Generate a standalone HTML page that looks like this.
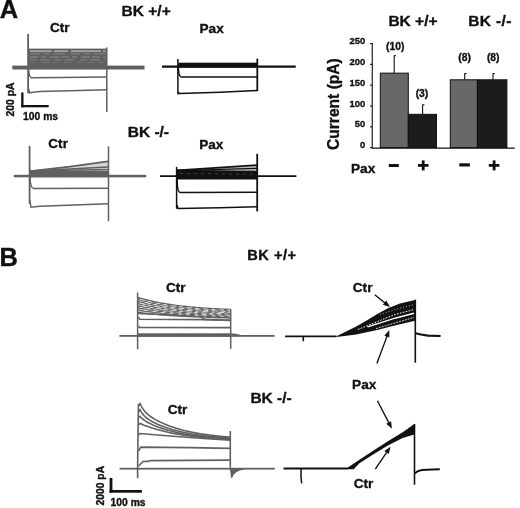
<!DOCTYPE html>
<html><head><meta charset="utf-8"><style>
html,body{margin:0;padding:0;background:#fff;}
svg{display:block;}
svg{filter:grayscale(100%) blur(0.3px);}
text{font-family:"Liberation Sans",sans-serif;font-weight:bold;stroke:#111;stroke-width:0.35px;}
</style></head><body>
<svg width="520" height="508" viewBox="0 0 520 508">
<rect width="520" height="508" fill="#fff"/>
<text x="-0.2" y="17.8" font-size="25.5" text-anchor="start" fill="#111">A</text>
<text x="-0.5" y="265.9" font-size="25.5" text-anchor="start" fill="#111">B</text>
<text x="121.6" y="15.7" font-size="15.5" text-anchor="start" fill="#111">BK +/+</text>
<text x="127.7" y="137.2" font-size="15.5" text-anchor="start" fill="#111">BK -/-</text>
<text x="388.4" y="25.6" font-size="15.5" text-anchor="start" fill="#111">BK +/+</text>
<text x="468.3" y="25.6" font-size="15.5" fill="#111" letter-spacing="0.35">BK -/-</text>
<text x="247.3" y="260.1" font-size="14.6" fill="#111" letter-spacing="0.5">BK +/+</text>
<text x="250.4" y="402.5" font-size="15.5" text-anchor="start" fill="#111">BK -/-</text>
<text x="50.0" y="31.8" font-size="13.6" text-anchor="start" fill="#111">Ctr</text>
<text x="48.3" y="148.3" font-size="13.6" text-anchor="start" fill="#111">Ctr</text>
<text x="199.5" y="32.9" font-size="13.6" text-anchor="start" fill="#111">Pax</text>
<text x="199.2" y="148.5" font-size="13.6" text-anchor="start" fill="#111">Pax</text>
<text x="166.0" y="291.5" font-size="13.6" text-anchor="start" fill="#111">Ctr</text>
<text x="352.8" y="291.6" font-size="13.6" text-anchor="start" fill="#111">Ctr</text>
<text x="167.7" y="413.8" font-size="13.6" text-anchor="start" fill="#111">Ctr</text>
<text x="352.1" y="388.9" font-size="13.6" text-anchor="start" fill="#111">Pax</text>
<text x="353.7" y="487.7" font-size="13.6" text-anchor="start" fill="#111">Ctr</text>
<text x="350.9" y="172.8" font-size="13.7" text-anchor="start" fill="#111">Pax</text>
<text x="23.1" y="119.75" font-size="10.3" text-anchor="start" fill="#111">100 ms</text>
<text x="110.6" y="505.8" font-size="10.3" text-anchor="start" fill="#111">100 ms</text>
<text x="14.3" y="116.5" font-size="10.4" text-anchor="start" fill="#111" transform="rotate(-90 14.3 116.5)">200 pA</text>
<text x="103.6" y="505.4" font-size="10.3" text-anchor="start" fill="#111" transform="rotate(-90 103.6 505.4)">2000 pA</text>
<rect x="21.2" y="92.5" width="2.3" height="14.8" fill="#111"/>
<rect x="21.2" y="105" width="27.5" height="2.3" fill="#111"/>
<rect x="109.6" y="478" width="2.8" height="14.7" fill="#111"/>
<rect x="109.6" y="490" width="32.3" height="2.7" fill="#111"/>
<line x1="370.1" y1="43.599999999999994" x2="372.3" y2="43.599999999999994" stroke="#111" stroke-width="1.2"/>
<text x="365.2" y="44.099999999999994" font-size="9.4" text-anchor="end" fill="#111">250</text>
<line x1="370.1" y1="64.39999999999999" x2="372.3" y2="64.39999999999999" stroke="#111" stroke-width="1.2"/>
<text x="365.2" y="64.89999999999999" font-size="9.4" text-anchor="end" fill="#111">200</text>
<line x1="370.1" y1="85.19999999999999" x2="372.3" y2="85.19999999999999" stroke="#111" stroke-width="1.2"/>
<text x="365.2" y="85.69999999999999" font-size="9.4" text-anchor="end" fill="#111">150</text>
<line x1="370.1" y1="106.0" x2="372.3" y2="106.0" stroke="#111" stroke-width="1.2"/>
<text x="365.2" y="106.5" font-size="9.4" text-anchor="end" fill="#111">100</text>
<line x1="370.1" y1="126.8" x2="372.3" y2="126.8" stroke="#111" stroke-width="1.2"/>
<text x="365.2" y="127.3" font-size="9.4" text-anchor="end" fill="#111">50</text>
<line x1="370.1" y1="147.6" x2="372.3" y2="147.6" stroke="#111" stroke-width="1.2"/>
<text x="365.2" y="148.1" font-size="9.4" text-anchor="end" fill="#111">0</text>
<text x="338.6" y="150.0" font-size="15.6" text-anchor="start" fill="#111" transform="rotate(-90 338.6 150.0)">Current (pA)</text>
<line x1="394.2" y1="73.136" x2="394.2" y2="55.664" stroke="#111" stroke-width="1.1"/>
<line x1="393.9" y1="55.664" x2="396.0" y2="55.664" stroke="#111" stroke-width="1.1"/>
<rect x="380.3" y="73.14" width="28.0" height="74.46" fill="#686868" stroke="#111" stroke-width="1"/>
<line x1="422.6" y1="114.32" x2="422.6" y2="104.752" stroke="#111" stroke-width="1.1"/>
<line x1="422.3" y1="104.752" x2="424.40000000000003" y2="104.752" stroke="#111" stroke-width="1.1"/>
<rect x="408.3" y="114.32" width="28.19999999999999" height="33.28" fill="#1c1c1c" stroke="#111" stroke-width="1"/>
<line x1="464.7" y1="79.792" x2="464.7" y2="73.55199999999999" stroke="#111" stroke-width="1.1"/>
<line x1="464.4" y1="73.55199999999999" x2="466.5" y2="73.55199999999999" stroke="#111" stroke-width="1.1"/>
<rect x="450.3" y="79.79" width="27.099999999999966" height="67.81" fill="#686868" stroke="#111" stroke-width="1"/>
<line x1="493" y1="79.792" x2="493" y2="73.55199999999999" stroke="#111" stroke-width="1.1"/>
<line x1="492.7" y1="73.55199999999999" x2="494.8" y2="73.55199999999999" stroke="#111" stroke-width="1.1"/>
<rect x="477.4" y="79.79" width="29.5" height="67.81" fill="#1c1c1c" stroke="#111" stroke-width="1"/>
<line x1="372.3" y1="43.0" x2="372.3" y2="148.7" stroke="#333" stroke-width="1.3"/>
<line x1="372.3" y1="148.1" x2="514.8" y2="148.1" stroke="#111" stroke-width="1.3"/>
<text x="386.1" y="49.8" font-size="10.3" text-anchor="start" fill="#111">(10)</text>
<text x="415.7" y="96.8" font-size="10.3" text-anchor="start" fill="#111">(3)</text>
<text x="458.3" y="61.0" font-size="10.3" text-anchor="start" fill="#111">(8)</text>
<text x="486.9" y="61.0" font-size="10.3" text-anchor="start" fill="#111">(8)</text>
<rect x="388.8" y="164.0" width="10" height="3.0" fill="#111"/>
<rect x="459.3" y="163.3" width="10.6" height="3.2" fill="#111"/>
<rect x="417.9" y="164.0" width="10.6" height="2.8" fill="#111"/>
<rect x="421.8" y="160.4" width="2.8" height="10.0" fill="#111"/>
<rect x="488.8" y="164.0" width="10.6" height="2.8" fill="#111"/>
<rect x="492.7" y="160.4" width="2.8" height="10.0" fill="#111"/>
<rect x="12.3" y="65.6" width="132.2" height="3.9" fill="#606060"/>
<rect x="28.5" y="48.6" width="78.3" height="20.6" fill="#606060"/>
<line x1="30" y1="51.1" x2="105.5" y2="51.1" stroke="#fff" stroke-width="0.9" stroke-opacity="0.85" stroke-dasharray="22 2 14 3 30 2"/>
<line x1="30" y1="53.8" x2="105.5" y2="53.8" stroke="#fff" stroke-width="0.6" stroke-opacity="0.4" stroke-dasharray="10 4 6 3 12 5"/>
<line x1="30" y1="57.0" x2="105.5" y2="57.0" stroke="#fff" stroke-width="0.6" stroke-opacity="0.45" stroke-dasharray="8 3 5 4 9 2"/>
<line x1="30" y1="59.9" x2="105.5" y2="59.9" stroke="#fff" stroke-width="0.6" stroke-opacity="0.4" stroke-dasharray="6 4 10 5"/>
<line x1="30" y1="62.4" x2="105.5" y2="62.4" stroke="#fff" stroke-width="0.5" stroke-opacity="0.25" stroke-dasharray="5 6 8 4"/>
<line x1="28.1" y1="34" x2="28.1" y2="93.3" stroke="#606060" stroke-width="1.8"/>
<line x1="106.8" y1="47.5" x2="106.8" y2="112" stroke="#606060" stroke-width="1.5"/>
<path d="M28.6,69 Q29,77.6 31.5,77.8 L60,77.6 L106.8,76.9" stroke="#606060" stroke-width="1.5" fill="none" />
<path d="M28.6,89 L29.6,92.8 L33,92.3 L40,91.6 L70,90.8 L106.8,89.7" stroke="#606060" stroke-width="1.5" fill="none" />
<line x1="162" y1="66.6" x2="295.7" y2="66.6" stroke="#111" stroke-width="2.1"/>
<rect x="178.3" y="62.7" width="79" height="4.9" fill="#111"/>
<line x1="177.9" y1="59" x2="177.9" y2="94.4" stroke="#111" stroke-width="1.5"/>
<line x1="257.3" y1="58.7" x2="257.3" y2="91.2" stroke="#111" stroke-width="1.8"/>
<path d="M178.3,67 Q178.5,76.9 181.5,76.9 L257,76.9" stroke="#111" stroke-width="1.5" fill="none" />
<path d="M178.3,92 L179.5,93.6 L220,92.2 L257,90.6" stroke="#111" stroke-width="1.5" fill="none" />
<rect x="13.8" y="174.8" width="132.4" height="2.5" fill="#606060"/>
<polygon points="30.50,171.00 108.00,161.30 108.00,170.40" fill="#d6d6d6"/>
<polygon points="30.00,170.60 108.20,170.40 108.20,177.30 30.00,177.30" fill="#606060"/>
<polyline points="30.50,171.00 50.00,168.90 70.00,166.60 90.00,163.80 108.00,161.30" fill="none" stroke="#606060" stroke-width="1.7" />
<line x1="30.5" y1="171" x2="108" y2="167.0" stroke="#606060" stroke-width="1.4"/>
<line x1="30.5" y1="171" x2="108" y2="169.4" stroke="#606060" stroke-width="1.4"/>
<line x1="29.6" y1="145.9" x2="29.6" y2="203.8" stroke="#606060" stroke-width="1.8"/>
<line x1="108.5" y1="146.4" x2="108.5" y2="221.2" stroke="#606060" stroke-width="1.5"/>
<path d="M29.8,176 Q30.5,188.6 33.5,188.6 L108.5,188.3" stroke="#606060" stroke-width="1.5" fill="none" />
<path d="M29.8,200 L31,207.2 L40,206.3 L108.5,203.7" stroke="#606060" stroke-width="1.4" fill="none" />
<line x1="160" y1="176.2" x2="296.4" y2="176.2" stroke="#111" stroke-width="1.8"/>
<polygon points="177.00,170.30 257.00,165.20 257.00,171.60" fill="#bdbdbd"/>
<polygon points="176.80,169.60 257.00,171.60 257.00,179.60 176.80,179.40" fill="#111"/>
<line x1="177" y1="170.3" x2="257" y2="165.2" stroke="#111" stroke-width="1.7"/>
<line x1="177" y1="170.6" x2="257" y2="168.4" stroke="#111" stroke-width="1.4"/>
<line x1="177" y1="170.8" x2="257" y2="171.4" stroke="#111" stroke-width="1.3"/>
<line x1="180" y1="173.4" x2="255" y2="174.2" stroke="#fff" stroke-width="0.6" stroke-opacity="0.3" stroke-dasharray="3 4"/>
<line x1="176.6" y1="166.9" x2="176.6" y2="208.8" stroke="#111" stroke-width="1.5"/>
<line x1="257.2" y1="153.8" x2="257.2" y2="211.4" stroke="#111" stroke-width="1.8"/>
<path d="M177,179 Q177.5,192.6 180,192.6 L257,192.2" stroke="#111" stroke-width="1.5" fill="none" />
<path d="M177,205 L178,208.6 L220,207.8 L257,206.8" stroke="#111" stroke-width="1.5" fill="none" />
<rect x="119.4" y="335.0" width="155.2" height="1.8" fill="#606060"/>
<rect x="138" y="333.3" width="92.7" height="3.4" fill="#606060"/>
<polygon points="138.00,297.50 140.00,298.07 142.00,298.61 144.00,299.14 146.00,299.63 148.00,300.11 150.00,300.57 152.00,301.00 154.00,301.42 156.00,301.82 158.00,302.20 160.00,302.57 162.00,302.91 164.00,303.25 166.00,303.57 168.00,303.87 170.00,304.17 172.00,304.45 174.00,304.71 176.00,304.97 178.00,305.21 180.00,305.45 182.00,305.67 184.00,305.89 186.00,306.09 188.00,306.29 190.00,306.48 192.00,306.65 194.00,306.83 196.00,306.99 198.00,307.15 200.00,307.30 201.00,307.37 202.00,307.44 204.00,307.58 205.00,307.64 206.00,307.71 208.00,307.83 210.00,307.96 212.00,308.07 214.00,308.18 216.00,308.29 218.00,308.39 220.00,308.48 222.00,308.57 224.00,308.66 226.00,308.75 228.00,308.83 230.00,308.90 230.70,308.93 230.70,320.80 230.00,320.78 228.00,320.74 226.00,320.69 224.00,320.64 222.00,320.60 220.00,320.55 218.00,320.50 216.00,320.46 214.00,320.41 212.00,320.36 210.00,320.32 208.00,320.27 206.00,320.22 205.00,320.20 204.00,319.56 202.00,318.28 201.00,317.64 200.00,317.00 198.00,316.86 196.00,316.72 194.00,316.58 192.00,316.44 190.00,316.30 188.00,316.22 186.00,316.14 184.00,316.06 182.00,315.98 180.00,315.90 178.00,315.82 176.00,315.73 174.00,315.65 172.00,315.57 170.00,315.49 168.00,315.41 166.00,315.33 164.00,315.25 162.00,315.17 160.00,315.09 158.00,315.01 156.00,314.93 154.00,314.85 152.00,314.77 150.00,314.68 148.00,314.60 146.00,314.52 144.00,314.44 142.00,314.36 140.00,314.28 138.00,314.20" fill="#dadada"/>
<polyline points="138.00,297.60 140.00,298.20 142.00,298.77 144.00,299.32 146.00,299.84 148.00,300.34 150.00,300.82 152.00,301.28 154.00,301.72 156.00,302.13 158.00,302.53 160.00,302.92 162.00,303.28 164.00,303.64 166.00,303.97 168.00,304.29 170.00,304.60 172.00,304.89 174.00,305.17 176.00,305.44 178.00,305.70 180.00,305.94 182.00,306.18 184.00,306.40 186.00,306.62 188.00,306.83 190.00,307.02 192.00,307.21 194.00,307.39 196.00,307.56 198.00,307.73 200.00,307.89 201.00,307.96 202.00,308.04 204.00,308.18 205.00,308.25 206.00,308.32 208.00,308.45 210.00,308.58 212.00,308.70 214.00,308.81 216.00,308.92 218.00,309.03 220.00,309.13 222.00,309.23 224.00,309.32 226.00,309.41 228.00,309.49 230.00,309.57 230.70,309.60" fill="none" stroke="#606060" stroke-width="1.6" />
<polyline points="138.00,299.60 140.00,300.16 142.00,300.70 144.00,301.22 146.00,301.71 148.00,302.18 150.00,302.63 152.00,303.06 154.00,303.48 156.00,303.87 158.00,304.25 160.00,304.61 162.00,304.95 164.00,305.28 166.00,305.60 168.00,305.90 170.00,306.19 172.00,306.47 174.00,306.73 176.00,306.98 178.00,307.23 180.00,307.46 182.00,307.68 184.00,307.89 186.00,308.09 188.00,308.29 190.00,308.47 192.00,308.65 194.00,308.82 196.00,308.98 198.00,309.14 200.00,309.29 201.00,309.36 202.00,309.43 204.00,309.56 205.00,309.63 206.00,309.69 208.00,309.82 210.00,309.94 212.00,310.05 214.00,310.16 216.00,310.26 218.00,310.36 220.00,310.46 222.00,310.55 224.00,310.64 226.00,310.72 228.00,310.80 230.00,310.87 230.70,310.90" fill="none" stroke="#606060" stroke-width="1.3" />
<polyline points="138.00,301.60 140.00,302.13 142.00,302.63 144.00,303.12 146.00,303.58 148.00,304.02 150.00,304.44 152.00,304.85 154.00,305.23 156.00,305.61 158.00,305.96 160.00,306.30 162.00,306.62 164.00,306.93 166.00,307.23 168.00,307.51 170.00,307.78 172.00,308.04 174.00,308.29 176.00,308.53 178.00,308.75 180.00,308.97 182.00,309.18 184.00,309.38 186.00,309.57 188.00,309.75 190.00,309.92 192.00,310.09 194.00,310.25 196.00,310.40 198.00,310.55 200.00,310.69 201.00,310.75 202.00,310.82 204.00,310.95 205.00,311.01 206.00,311.07 208.00,311.18 210.00,311.30 212.00,311.40 214.00,311.50 216.00,311.60 218.00,311.70 220.00,311.78 222.00,311.87 224.00,311.95 226.00,312.03 228.00,312.10 230.00,312.18 230.70,312.20" fill="none" stroke="#606060" stroke-width="1.3" />
<polyline points="138.00,303.70 140.00,304.19 142.00,304.66 144.00,305.10 146.00,305.53 148.00,305.94 150.00,306.33 152.00,306.70 154.00,307.06 156.00,307.40 158.00,307.73 160.00,308.04 162.00,308.34 164.00,308.63 166.00,308.90 168.00,309.17 170.00,309.42 172.00,309.66 174.00,309.88 176.00,310.10 178.00,310.31 180.00,310.51 182.00,310.71 184.00,310.89 186.00,311.07 188.00,311.23 190.00,311.39 192.00,311.55 194.00,311.70 196.00,311.84 198.00,311.97 200.00,312.10 201.00,312.16 202.00,312.22 204.00,312.34 205.00,312.40 206.00,312.45 208.00,312.56 210.00,312.66 212.00,312.76 214.00,312.86 216.00,312.95 218.00,313.03 220.00,313.12 222.00,313.19 224.00,313.27 226.00,313.34 228.00,313.41 230.00,313.48 230.70,313.50" fill="none" stroke="#606060" stroke-width="1.3" />
<polyline points="138.00,305.80 140.00,306.25 142.00,306.68 144.00,307.09 146.00,307.48 148.00,307.86 150.00,308.21 152.00,308.56 154.00,308.89 156.00,309.20 158.00,309.50 160.00,309.79 162.00,310.06 164.00,310.33 166.00,310.58 168.00,310.82 170.00,311.05 172.00,311.27 174.00,311.48 176.00,311.68 178.00,311.87 180.00,312.06 182.00,312.23 184.00,312.40 186.00,312.56 188.00,312.72 190.00,312.87 192.00,313.01 194.00,313.14 196.00,313.27 198.00,313.40 200.00,313.51 201.00,313.57 202.00,313.63 204.00,313.74 205.00,313.79 206.00,313.84 208.00,313.94 210.00,314.03 212.00,314.12 214.00,314.21 216.00,314.29 218.00,314.37 220.00,314.45 222.00,314.52 224.00,314.59 226.00,314.66 228.00,314.72 230.00,314.78 230.70,314.80" fill="none" stroke="#606060" stroke-width="1.3" />
<polyline points="138.00,307.90 140.00,308.30 142.00,308.69 144.00,309.06 146.00,309.41 148.00,309.75 150.00,310.07 152.00,310.38 154.00,310.68 156.00,310.96 158.00,311.23 160.00,311.49 162.00,311.74 164.00,311.97 166.00,312.20 168.00,312.42 170.00,312.62 172.00,312.82 174.00,313.01 176.00,313.19 178.00,313.37 180.00,313.53 182.00,313.69 184.00,313.84 186.00,313.99 188.00,314.13 190.00,314.26 192.00,314.39 194.00,314.51 196.00,314.62 198.00,314.74 200.00,314.84 201.00,314.89 202.00,314.94 204.00,315.04 205.00,315.09 206.00,315.13 208.00,315.22 210.00,315.31 212.00,315.39 214.00,315.47 216.00,315.54 218.00,315.61 220.00,315.68 222.00,315.75 224.00,315.81 226.00,315.87 228.00,315.93 230.00,315.98 230.70,316.00" fill="none" stroke="#606060" stroke-width="1.3" />
<polyline points="138.00,310.10 140.00,310.44 142.00,310.77 144.00,311.09 146.00,311.39 148.00,311.68 150.00,311.95 152.00,312.21 154.00,312.47 156.00,312.71 158.00,312.94 160.00,313.16 162.00,313.37 164.00,313.57 166.00,313.76 168.00,313.95 170.00,314.12 172.00,314.29 174.00,314.45 176.00,314.61 178.00,314.76 180.00,314.90 182.00,315.03 184.00,315.16 186.00,315.29 188.00,315.40 190.00,315.52 192.00,315.63 194.00,315.73 196.00,315.83 198.00,315.92 200.00,316.01 201.00,316.06 202.00,316.10 204.00,316.18 205.00,316.22 206.00,316.26 208.00,316.34 210.00,316.41 212.00,316.48 214.00,316.55 216.00,316.61 218.00,316.67 220.00,316.73 222.00,316.79 224.00,316.84 226.00,316.89 228.00,316.94 230.00,316.98 230.70,317.00" fill="none" stroke="#606060" stroke-width="1.3" />
<polyline points="138.00,312.30 140.00,312.57 142.00,312.84 144.00,313.09 146.00,313.33 148.00,313.56 150.00,313.78 152.00,313.99 154.00,314.19 156.00,314.38 158.00,314.56 160.00,314.74 162.00,314.91 164.00,315.07 166.00,315.22 168.00,315.37 170.00,315.51 172.00,315.64 174.00,315.77 176.00,315.89 178.00,316.01 180.00,316.12 182.00,316.23 184.00,316.34 186.00,316.43 188.00,316.53 190.00,316.62 192.00,316.70 194.00,316.79 196.00,316.87 198.00,316.94 200.00,317.01 201.00,317.05 202.00,317.08 204.00,317.15 205.00,317.18 206.00,317.21 208.00,317.27 210.00,317.33 212.00,317.39 214.00,317.44 216.00,317.49 218.00,317.54 220.00,317.58 222.00,317.63 224.00,317.67 226.00,317.71 228.00,317.75 230.00,317.79 230.70,317.80" fill="none" stroke="#606060" stroke-width="1.3" />
<polyline points="138.00,313.60 140.00,313.68 142.00,313.76 144.00,313.84 146.00,313.92 148.00,314.00 150.00,314.08 152.00,314.17 154.00,314.25 156.00,314.33 158.00,314.41 160.00,314.49 162.00,314.57 164.00,314.65 166.00,314.73 168.00,314.81 170.00,314.89 172.00,314.97 174.00,315.05 176.00,315.13 178.00,315.22 180.00,315.30 182.00,315.38 184.00,315.46 186.00,315.54 188.00,315.62 190.00,315.70 192.00,315.84 194.00,315.98 196.00,316.12 198.00,316.26 200.00,316.40 201.00,317.04 202.00,317.68 204.00,318.96 205.00,319.60 206.00,319.62 208.00,319.67 210.00,319.72 212.00,319.76 214.00,319.81 216.00,319.86 218.00,319.90 220.00,319.95 222.00,320.00 224.00,320.04 226.00,320.09 228.00,320.14 230.00,320.18 230.70,320.20" fill="none" stroke="#606060" stroke-width="1.3" />
<polyline points="140.00,299.18 142.00,299.74 144.00,300.27 146.00,300.77 148.00,301.26 150.00,301.73 152.00,302.17 154.00,302.60 156.00,303.00 158.00,303.39 160.00,303.76 162.00,304.12 164.00,304.46 166.00,304.79 168.00,305.10 170.00,305.39 172.00,305.68 174.00,305.95 176.00,306.21 178.00,306.46 180.00,306.70 182.00,306.93 184.00,307.15 186.00,307.36 188.00,307.56 190.00,307.75 192.00,307.93 194.00,308.11 196.00,308.27 198.00,308.43 200.00,308.59 201.00,308.66 202.00,308.73 204.00,308.87 205.00,308.94 206.00,309.01 208.00,309.13 210.00,309.26 212.00,309.37 214.00,309.49 216.00,309.59 218.00,309.70 220.00,309.79 222.00,309.89 224.00,309.98 226.00,310.06 228.00,310.14 230.00,310.22 230.70,310.25" fill="none" stroke="#fff" stroke-width="0.8" stroke-dasharray="5 3 4 4" stroke-dashoffset="0" stroke-opacity="0.9"/>
<polyline points="140.00,301.15 142.00,301.67 144.00,302.17 146.00,302.64 148.00,303.10 150.00,303.54 152.00,303.96 154.00,304.36 156.00,304.74 158.00,305.10 160.00,305.45 162.00,305.79 164.00,306.11 166.00,306.41 168.00,306.71 170.00,306.99 172.00,307.25 174.00,307.51 176.00,307.76 178.00,307.99 180.00,308.21 182.00,308.43 184.00,308.63 186.00,308.83 188.00,309.02 190.00,309.20 192.00,309.37 194.00,309.53 196.00,309.69 198.00,309.84 200.00,309.99 201.00,310.05 202.00,310.12 204.00,310.25 205.00,310.32 206.00,310.38 208.00,310.50 210.00,310.62 212.00,310.73 214.00,310.83 216.00,310.93 218.00,311.03 220.00,311.12 222.00,311.21 224.00,311.29 226.00,311.37 228.00,311.45 230.00,311.52 230.70,311.55" fill="none" stroke="#fff" stroke-width="0.8" stroke-dasharray="4 4 6 3" stroke-dashoffset="3" stroke-opacity="0.9"/>
<polyline points="140.00,303.16 142.00,303.64 144.00,304.11 146.00,304.55 148.00,304.98 150.00,305.39 152.00,305.78 154.00,306.15 156.00,306.50 158.00,306.84 160.00,307.17 162.00,307.48 164.00,307.78 166.00,308.07 168.00,308.34 170.00,308.60 172.00,308.85 174.00,309.09 176.00,309.32 178.00,309.53 180.00,309.74 182.00,309.94 184.00,310.13 186.00,310.32 188.00,310.49 190.00,310.66 192.00,310.82 194.00,310.97 196.00,311.12 198.00,311.26 200.00,311.39 201.00,311.46 202.00,311.52 204.00,311.64 205.00,311.70 206.00,311.76 208.00,311.87 210.00,311.98 212.00,312.08 214.00,312.18 216.00,312.27 218.00,312.36 220.00,312.45 222.00,312.53 224.00,312.61 226.00,312.69 228.00,312.76 230.00,312.83 230.70,312.85" fill="none" stroke="#fff" stroke-width="0.8" stroke-dasharray="6 3 3 4" stroke-dashoffset="1" stroke-opacity="0.9"/>
<polyline points="140.00,305.22 142.00,305.67 144.00,306.09 146.00,306.50 148.00,306.90 150.00,307.27 152.00,307.63 154.00,307.97 156.00,308.30 158.00,308.62 160.00,308.92 162.00,309.20 164.00,309.48 166.00,309.74 168.00,309.99 170.00,310.23 172.00,310.46 174.00,310.68 176.00,310.89 178.00,311.09 180.00,311.29 182.00,311.47 184.00,311.65 186.00,311.82 188.00,311.98 190.00,312.13 192.00,312.28 194.00,312.42 196.00,312.55 198.00,312.68 200.00,312.81 201.00,312.87 202.00,312.92 204.00,313.04 205.00,313.09 206.00,313.15 208.00,313.25 210.00,313.35 212.00,313.44 214.00,313.53 216.00,313.62 218.00,313.70 220.00,313.78 222.00,313.86 224.00,313.93 226.00,314.00 228.00,314.07 230.00,314.13 230.70,314.15" fill="none" stroke="#fff" stroke-width="0.8" stroke-dasharray="3 4 5 3" stroke-dashoffset="5" stroke-opacity="0.9"/>
<polyline points="140.00,307.28 142.00,307.68 144.00,308.07 146.00,308.45 148.00,308.80 150.00,309.14 152.00,309.47 154.00,309.78 156.00,310.08 158.00,310.37 160.00,310.64 162.00,310.90 164.00,311.15 166.00,311.39 168.00,311.62 170.00,311.84 172.00,312.05 174.00,312.25 176.00,312.44 178.00,312.62 180.00,312.80 182.00,312.96 184.00,313.12 186.00,313.28 188.00,313.42 190.00,313.56 192.00,313.70 194.00,313.83 196.00,313.95 198.00,314.07 200.00,314.18 201.00,314.23 202.00,314.29 204.00,314.39 205.00,314.44 206.00,314.49 208.00,314.58 210.00,314.67 212.00,314.76 214.00,314.84 216.00,314.92 218.00,314.99 220.00,315.06 222.00,315.13 224.00,315.20 226.00,315.26 228.00,315.32 230.00,315.38 230.70,315.40" fill="none" stroke="#fff" stroke-width="0.8" stroke-dasharray="4 5 3 4" stroke-dashoffset="2" stroke-opacity="0.9"/>
<polyline points="140.00,309.37 142.00,309.73 144.00,310.07 146.00,310.40 148.00,310.71 150.00,311.01 152.00,311.30 154.00,311.57 156.00,311.83 158.00,312.08 160.00,312.32 162.00,312.55 164.00,312.77 166.00,312.98 168.00,313.18 170.00,313.37 172.00,313.56 174.00,313.73 176.00,313.90 178.00,314.06 180.00,314.22 182.00,314.36 184.00,314.50 186.00,314.64 188.00,314.77 190.00,314.89 192.00,315.01 194.00,315.12 196.00,315.23 198.00,315.33 200.00,315.43 201.00,315.48 202.00,315.52 204.00,315.61 205.00,315.66 206.00,315.70 208.00,315.78 210.00,315.86 212.00,315.94 214.00,316.01 216.00,316.08 218.00,316.14 220.00,316.21 222.00,316.27 224.00,316.32 226.00,316.38 228.00,316.43 230.00,316.48 230.70,316.50" fill="none" stroke="#fff" stroke-width="0.8" stroke-dasharray="3 5 4 5" stroke-dashoffset="4" stroke-opacity="0.9"/>
<polyline points="138.50,317.00 139.50,319.30 205.00,319.60 230.70,320.40" fill="none" stroke="#606060" stroke-width="1.6" />
<polyline points="138.50,326.00 139.50,327.40 230.70,327.60" fill="none" stroke="#606060" stroke-width="1.6" />
<line x1="137.6" y1="292.5" x2="137.6" y2="349.2" stroke="#606060" stroke-width="1.5"/>
<line x1="230.7" y1="309.3" x2="230.7" y2="348.9" stroke="#606060" stroke-width="1.5"/>
<path d="M230.7,334 Q236,334.2 240,335.5" stroke="#606060" stroke-width="1.5" fill="none" />
<line x1="285.1" y1="336.3" x2="336.5" y2="336.3" stroke="#111" stroke-width="1.8"/>
<path d="M303.3,336 L303.3,341.2" stroke="#111" stroke-width="1.6" fill="none" />
<polygon points="336.50,336.20 345.60,331.70 356.20,326.60 366.70,320.40 377.30,314.00 387.90,308.20 400.00,303.60 415.00,300.00 415.00,320.80 400.00,324.20 387.90,327.20 377.30,329.90 366.70,332.30 356.20,334.50 340.30,336.60 336.50,337.00" fill="#111"/>
<polyline points="358.00,329.50 385.00,318.50 395.00,314.50 414.00,309.60" fill="none" stroke="#fff" stroke-width="1.0" stroke-dasharray="1.6 1.4"/>
<polyline points="367.50,326.80 385.00,321.30 395.00,318.20 414.00,313.20" fill="none" stroke="#fff" stroke-width="1.4" />
<polyline points="376.00,328.60 395.00,323.00 414.00,317.40" fill="none" stroke="#fff" stroke-width="0.8" stroke-dasharray="2 1"/>
<polyline points="380.00,314.50 395.00,309.50 414.00,304.60" fill="none" stroke="#fff" stroke-width="0.7" stroke-dasharray="1.2 1.8" stroke-opacity="0.8"/>
<line x1="415.3" y1="299.6" x2="415.3" y2="362.7" stroke="#111" stroke-width="1.6"/>
<path d="M415.5,333.2 Q420,334.6 428,335.6 L440.6,336" stroke="#111" stroke-width="2.1" fill="none" />
<line x1="374.8" y1="294.8" x2="385.33581626734343" y2="303.32569342686344" stroke="#111" stroke-width="1.35"/>
<polygon points="390.00,307.10 382.86,304.80 386.26,300.60" fill="#111"/>
<line x1="376.9" y1="363.5" x2="387.21720802063885" y2="335.6268976861774" stroke="#111" stroke-width="1.35"/>
<polygon points="389.30,330.00 389.40,337.50 384.34,335.63" fill="#111"/>
<rect x="119.6" y="467.8" width="155.2" height="1.8" fill="#606060"/>
<path d="M138.4,404 L137.6,468 L137.6,478.2" stroke="#606060" stroke-width="1.6" fill="none" />
<polyline points="138.60,406.00 139.40,404.20 140.00,403.50 141.00,405.62 142.00,407.42 143.00,408.98 144.00,410.34 145.00,411.54 146.00,412.62 147.00,413.59 148.00,414.48 149.00,415.30 150.00,416.06 152.00,417.46 154.00,418.72 156.00,419.87 158.00,420.94 160.00,421.94 162.00,422.88 164.00,423.77 166.00,424.60 168.00,425.40 170.00,426.15 172.00,426.86 174.00,427.53 176.00,428.17 178.00,428.78 180.00,429.35 182.00,429.90 184.00,430.42 186.00,430.91 188.00,431.38 190.00,431.82 192.00,432.24 194.00,432.64 196.00,433.01 198.00,433.37 200.00,433.71 202.00,434.03 204.00,434.34 206.00,434.63 208.00,434.91 210.00,435.17 212.00,435.41 214.00,435.65 216.00,435.87 218.00,436.08 220.00,436.28 222.00,436.48 224.00,436.66 226.00,436.83 228.00,436.99 230.00,437.14 230.20,437.16" fill="none" stroke="#606060" stroke-width="1.6" />
<polyline points="138.60,412.00 140.00,409.80 141.00,411.57 142.00,413.08 143.00,414.39 144.00,415.53 145.00,416.54 146.00,417.44 147.00,418.25 148.00,419.00 149.00,419.69 150.00,420.34 152.00,421.51 154.00,422.57 156.00,423.54 158.00,424.44 160.00,425.28 162.00,426.08 164.00,426.82 166.00,427.53 168.00,428.19 170.00,428.83 172.00,429.43 174.00,430.00 176.00,430.53 178.00,431.05 180.00,431.53 182.00,431.99 184.00,432.43 186.00,432.84 188.00,433.23 190.00,433.61 192.00,433.96 194.00,434.29 196.00,434.61 198.00,434.91 200.00,435.20 202.00,435.47 204.00,435.73 206.00,435.97 208.00,436.21 210.00,436.43 212.00,436.64 214.00,436.83 216.00,437.02 218.00,437.20 220.00,437.37 222.00,437.53 224.00,437.68 226.00,437.83 228.00,437.96 230.00,438.09 230.20,438.11" fill="none" stroke="#606060" stroke-width="1.6" />
<polyline points="138.60,418.00 140.00,416.50 141.00,417.53 142.00,418.44 143.00,419.26 144.00,420.01 145.00,420.70 146.00,421.34 147.00,421.94 148.00,422.50 149.00,423.03 150.00,423.54 152.00,424.49 154.00,425.37 156.00,426.20 158.00,426.97 160.00,427.69 162.00,428.38 164.00,429.03 166.00,429.65 168.00,430.23 170.00,430.78 172.00,431.31 174.00,431.80 176.00,432.28 178.00,432.72 180.00,433.15 182.00,433.55 184.00,433.93 186.00,434.29 188.00,434.64 190.00,434.96 192.00,435.27 194.00,435.57 196.00,435.85 198.00,436.11 200.00,436.36 202.00,436.60 204.00,436.82 206.00,437.04 208.00,437.24 210.00,437.43 212.00,437.62 214.00,437.79 216.00,437.95 218.00,438.11 220.00,438.26 222.00,438.40 224.00,438.53 226.00,438.66 228.00,438.78 230.00,438.89 230.20,438.90" fill="none" stroke="#606060" stroke-width="1.6" />
<polyline points="138.60,425.00 140.00,423.50 142.00,424.34 144.00,425.14 146.00,425.90 148.00,426.62 150.00,427.31 152.00,427.97 154.00,428.60 156.00,429.20 158.00,429.77 160.00,430.32 162.00,430.84 164.00,431.34 166.00,431.81 168.00,432.26 170.00,432.69 172.00,433.10 174.00,433.49 176.00,433.86 178.00,434.22 180.00,434.56 182.00,434.88 184.00,435.19 186.00,435.48 188.00,435.76 190.00,436.03 192.00,436.28 194.00,436.52 196.00,436.76 198.00,436.98 200.00,437.19 202.00,437.39 204.00,437.58 206.00,437.76 208.00,437.93 210.00,438.10 212.00,438.26 214.00,438.41 216.00,438.55 218.00,438.69 220.00,438.82 222.00,438.95 224.00,439.06 226.00,439.18 228.00,439.29 230.00,439.39 230.20,439.40" fill="none" stroke="#606060" stroke-width="1.6" />
<polyline points="138.60,435.00 140.00,433.50 170.00,436.00 200.00,438.30 230.20,440.30" fill="none" stroke="#606060" stroke-width="1.6" />
<polyline points="138.80,451.00 140.70,447.10 190.00,447.60 230.20,448.40" fill="none" stroke="#606060" stroke-width="1.6" />
<polyline points="138.50,466.00 143.00,461.50 148.00,461.40 150.00,460.60 230.20,460.10" fill="none" stroke="#606060" stroke-width="1.6" />
<line x1="230.3" y1="431" x2="230.3" y2="468.5" stroke="#606060" stroke-width="1.6"/>
<path d="M230.5,468 L231.6,477.6 Q234,470 243.6,469" stroke="#606060" stroke-width="1.3" fill="#606060" />
<line x1="283.5" y1="468.5" x2="348" y2="468.5" stroke="#111" stroke-width="1.8"/>
<path d="M301.1,468.5 Q300.6,476 301.6,483.3" stroke="#111" stroke-width="1.5" fill="none" />
<polygon points="347.90,467.60 359.40,459.70 373.90,450.30 388.30,440.90 402.70,432.30 414.30,424.00 414.30,434.40 402.70,438.00 388.30,445.30 373.90,453.90 359.40,463.30 353.70,469.20 347.90,469.20" fill="#111"/>
<line x1="414.5" y1="423.9" x2="414.5" y2="484.7" stroke="#111" stroke-width="1.6"/>
<path d="M414.8,473.4 Q417.5,470.6 422,470.1 L432,469.4 L439.8,469.2" stroke="#111" stroke-width="2.0" fill="none" />
<line x1="377.4" y1="400.7" x2="389.1408745140312" y2="423.37203354433626" stroke="#111" stroke-width="1.35"/>
<polygon points="391.90,428.70 386.28,423.73 391.08,421.24" fill="#111"/>
<line x1="375.3" y1="469.1" x2="387.13099148997645" y2="451.66485464635053" stroke="#111" stroke-width="1.35"/>
<polygon points="390.50,446.70 388.80,454.01 384.34,450.98" fill="#111"/>
</svg>
</body></html>
